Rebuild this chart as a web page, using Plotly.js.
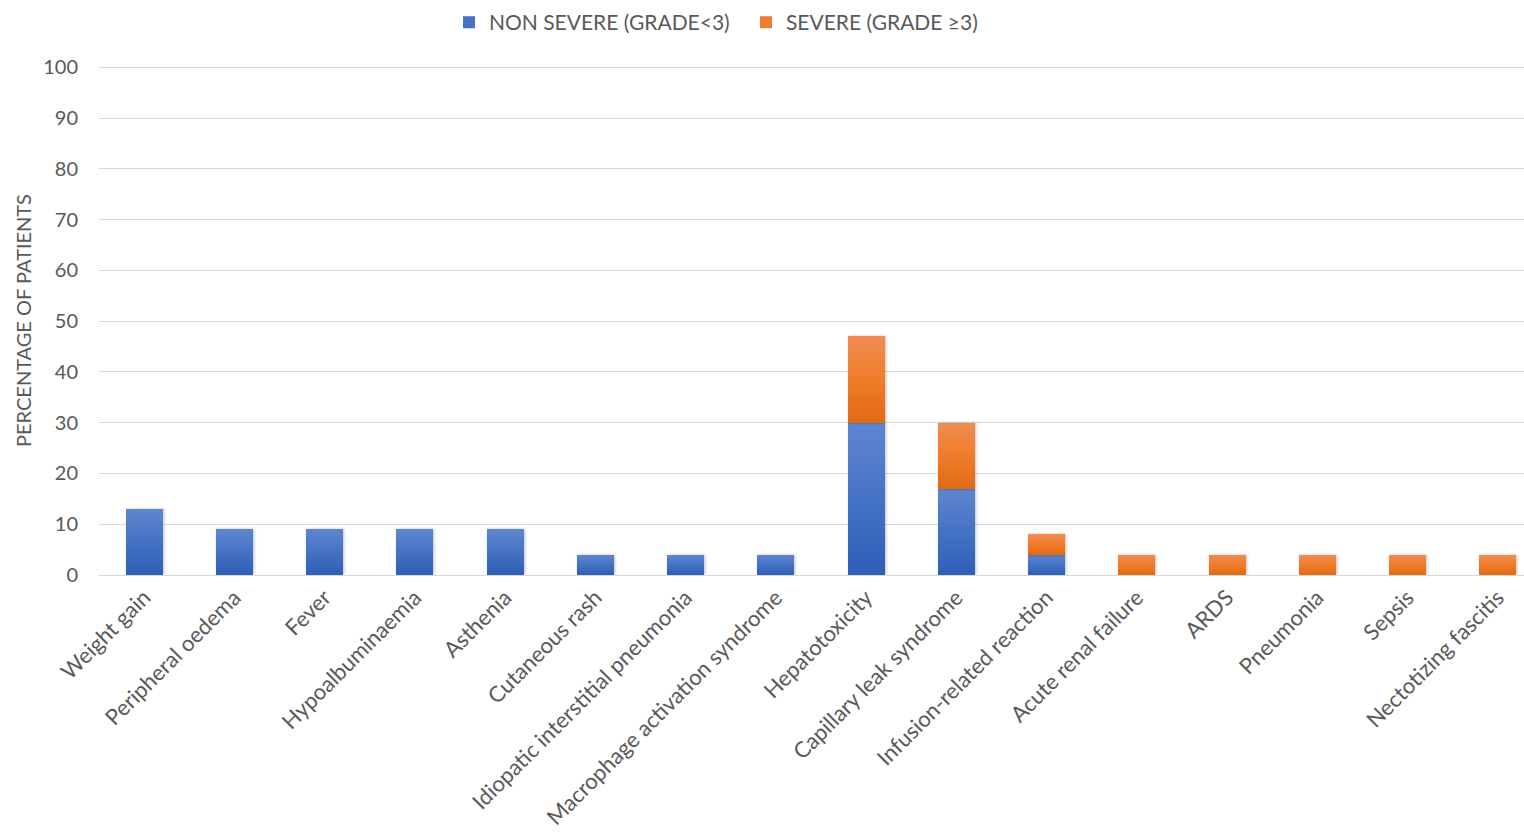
<!DOCTYPE html>
<html>
<head>
<meta charset="utf-8">
<script src="https://cdn.plot.ly/plotly-3.0.1.min.js"></script>
<style>
  html, body { margin: 0; padding: 0; background: #ffffff; }
  #chart { width: 1524px; height: 836px; }
</style>
</head>
<body>
<div id="chart"></div>
<script>
// Adverse events by category, split by grade
const categories = [
  "Weight gain", "Peripheral oedema", "Fever", "Hypoalbuminaemia", "Asthenia",
  "Cutaneous rash", "Idiopatic interstitial pneumonia", "Macrophage activation syndrome",
  "Hepatotoxicity", "Capillary leak syndrome", "Infusion-related reaction",
  "Acute renal failure", "ARDS", "Pneumonia", "Sepsis", "Nectotizing fascitis"
];
const nonSevere = [13, 9, 9, 9, 9, 4, 4, 4, 30, 17, 4, 0, 0, 0, 0, 0];
const severe    = [0, 0, 0, 0, 0, 0, 0, 0, 17, 13, 4, 4, 4, 4, 4, 4];
const yTicks = [0, 10, 20, 30, 40, 50, 60, 70, 80, 90, 100];

const FONT = "Lato, 'Open Sans', sans-serif";
const GREY = "#595959";

const traces = [
  {
    type: "bar", name: "NON SEVERE (GRADE<3)",
    x: categories, y: nonSevere,
    marker: { color: "#4472C4" }, width: 0.41
  },
  {
    type: "bar", name: "SEVERE (GRADE \u22653)",
    x: categories, y: severe,
    marker: { color: "#ED7D31" }, width: 0.41
  }
];

const layout = {
  barmode: "stack",
  width: 1524, height: 836,
  margin: { l: 99, r: 0, t: 66, b: 261 },
  paper_bgcolor: "#ffffff", plot_bgcolor: "#ffffff",
  font: { family: FONT, color: GREY },
  showlegend: true,
  legend: {
    orientation: "h", xref: "container", yref: "container",
    x: 0.2946, xanchor: "left", y: 0.973, yanchor: "middle",
    font: { size: 21, color: GREY, family: FONT },
    traceorder: "normal", entrywidth: 252, entrywidthmode: "pixels"
  },
  xaxis: {
    type: "category",
    range: [-0.5, 15.29],
    tickangle: -45,
    tickfont: { size: 22, color: GREY, family: FONT },
    showgrid: false, zeroline: false,
    showline: true, linecolor: "#d9d9d9", linewidth: 1,
    ticks: "", fixedrange: true
  },
  yaxis: {
    range: [0, 100.25],
    tickvals: yTicks, ticktext: yTicks.map(String),
    tickfont: { size: 20, color: GREY, family: FONT },
    gridcolor: "#d9d9d9", gridwidth: 1,
    zeroline: false, showline: false, ticks: "", ticklen: 0,
    ticklabelstandoff: 20,
    title: { text: "PERCENTAGE OF PATIENTS", font: { size: 20, color: GREY, family: FONT }, standoff: 6 },
    fixedrange: true
  }
};

Plotly.newPlot("chart", traces, layout, { displayModeBar: false, staticPlot: true }).then(function (gd) {
  // Vertical light-to-dark shading on each bar segment
  const svg = gd.querySelector("svg.main-svg");
  const ns = "http://www.w3.org/2000/svg";
  let defs = svg.querySelector("defs");
  if (!defs) { defs = document.createElementNS(ns, "defs"); svg.insertBefore(defs, svg.firstChild); }
  const grads = [
    { id: "shadeBlue", top: "#5f86cf", mid: "#4472c4", bot: "#2f5eb8" },
    { id: "shadeOrange", top: "#f08c52", mid: "#f07c2a", bot: "#e06a14" }
  ];
  grads.forEach(function (g) {
    const lg = document.createElementNS(ns, "linearGradient");
    lg.setAttribute("id", g.id);
    lg.setAttribute("x1", "0"); lg.setAttribute("y1", "0");
    lg.setAttribute("x2", "0"); lg.setAttribute("y2", "1");
    [[0, g.top], [0.5, g.mid], [1, g.bot]].forEach(function (s) {
      const st = document.createElementNS(ns, "stop");
      st.setAttribute("offset", s[0]);
      st.setAttribute("stop-color", s[1]);
      lg.appendChild(st);
    });
    defs.appendChild(lg);
  });
  const layers = gd.querySelectorAll(".barlayer .trace");
  layers.forEach(function (layer, i) {
    layer.querySelectorAll("path").forEach(function (p) {
      p.style.fill = "url(#" + grads[i].id + ")";
      p.style.filter = "drop-shadow(1px 0px 1.5px rgba(0,0,0,0.25))";
    });
  });
});
</script>
</body>
</html>
